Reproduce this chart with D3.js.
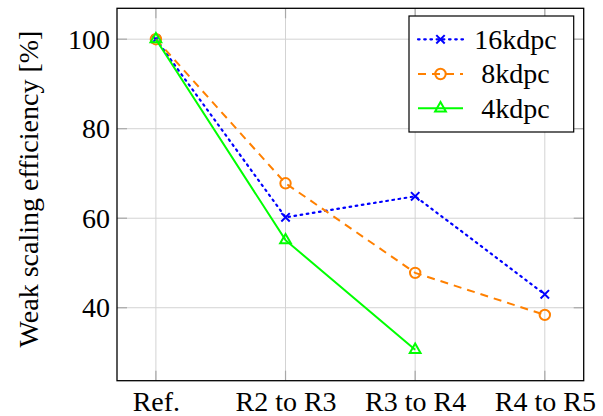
<!DOCTYPE html>
<html>
<head>
<meta charset="utf-8">
<script src="https://cdn.jsdelivr.net/npm/d3@7"></script>
<style>
  html, body { margin: 0; padding: 0; background: #fff; }
  svg { display: block; }
  svg text { font-family: "Liberation Serif", "Times New Roman", "DejaVu Serif", "Noto Serif", serif !important; }
</style>
</head>
<body>
<svg id="chart" width="603" height="416"></svg>
<script>
// Transitions between runs
const categories = ["Ref.", "R2 to R3", "R3 to R4", "R4 to R5"];
const yTicks = [40, 60, 80, 100];

// Weak scaling efficiency in percent, per problem size
const eff16k = [100, 60.2, 64.9, 43.0];
const eff8k  = [100, 67.8, 47.8, 38.4];
const eff4k  = [100, 55.1, 30.6];

const seriesNames = ["16kdpc", "8kdpc", "4kdpc"];

const series = [
  { name: seriesNames[0], values: eff16k, color: "#0000ff", dash: "1.6 4.6", cap: "round", marker: "cross" },
  { name: seriesNames[1], values: eff8k,  color: "#ff8000", dash: "8 6",     cap: "butt",  marker: "circle" },
  { name: seriesNames[2], values: eff4k,  color: "#00ff00", dash: null,      cap: "butt",  marker: "triangle" }
];

const FONT = '"Liberation Serif", "Times New Roman", "DejaVu Serif", "Noto Serif", serif';
const fontSize = 28;
const plot = { left: 117, top: 8.3, right: 583.7, bottom: 380.7 };

const svg = d3.select("#chart");

const x = d3.scalePoint()
  .domain(categories)
  .range([plot.left, plot.right])
  .padding(0.3);

const y = d3.scaleLinear()
  .domain([23.7, 106.9])
  .range([plot.bottom, plot.top]);

// grid
const grid = svg.append("g").attr("stroke", "#d3d3d3").attr("stroke-width", 1);
categories.forEach(c => {
  grid.append("line")
    .attr("x1", x(c)).attr("x2", x(c))
    .attr("y1", plot.top).attr("y2", plot.bottom);
});
yTicks.forEach(t => {
  grid.append("line")
    .attr("x1", plot.left).attr("x2", plot.right)
    .attr("y1", y(t)).attr("y2", y(t));
});

// inward ticks on all four sides
const tickLen = 10;
const ticks = svg.append("g").attr("stroke", "#a8a8a8").attr("stroke-width", 1.2);
categories.forEach(c => {
  ticks.append("line").attr("x1", x(c)).attr("x2", x(c)).attr("y1", plot.bottom).attr("y2", plot.bottom - tickLen);
  ticks.append("line").attr("x1", x(c)).attr("x2", x(c)).attr("y1", plot.top).attr("y2", plot.top + tickLen);
});
yTicks.forEach(t => {
  ticks.append("line").attr("x1", plot.left).attr("x2", plot.left + tickLen).attr("y1", y(t)).attr("y2", y(t));
  ticks.append("line").attr("x1", plot.right).attr("x2", plot.right - tickLen).attr("y1", y(t)).attr("y2", y(t));
});

// axis labels via d3 axes (no domain path, no tick lines)
const xAxis = svg.append("g")
  .attr("transform", `translate(0,${plot.bottom})`)
  .call(d3.axisBottom(x).tickSize(0).tickPadding(0))
  .attr("font-family", FONT)
  .attr("font-size", fontSize);
xAxis.select(".domain").remove();
xAxis.selectAll("text")
  .attr("y", 30.5)
  .attr("dy", 0)
  .attr("font-family", FONT)
  .attr("fill", "#000");

const yAxis = svg.append("g")
  .attr("transform", `translate(${plot.left},0)`)
  .call(d3.axisLeft(y).tickValues(yTicks).tickSize(0).tickPadding(7))
  .attr("font-family", FONT)
  .attr("font-size", fontSize);
yAxis.select(".domain").remove();
yAxis.selectAll("text")
  .attr("dy", "0.33em")
  .attr("font-family", FONT)
  .attr("fill", "#000");

// y title
svg.append("text")
  .attr("transform", `translate(38,189) rotate(-90)`)
  .attr("text-anchor", "middle")
  .attr("font-family", FONT)
  .attr("font-size", fontSize)
  .attr("fill", "#000")
  .text("Weak scaling efficiency [%]");

// markers
function drawMarker(g, type, cx, cy, color) {
  if (type === "cross") {
    const s = 4.2;
    g.append("path")
      .attr("d", `M${cx - s},${cy - s}L${cx + s},${cy + s}M${cx - s},${cy + s}L${cx + s},${cy - s}`)
      .attr("stroke", color).attr("stroke-width", 2).attr("fill", "none");
  } else if (type === "circle") {
    g.append("circle").attr("cx", cx).attr("cy", cy).attr("r", 5.2)
      .attr("stroke", color).attr("stroke-width", 2).attr("fill", "none");
  } else {
    const r = 6.2;
    const pts = [[cx, cy - r], [cx - r * 0.866, cy + r * 0.5], [cx + r * 0.866, cy + r * 0.5]];
    g.append("path").attr("d", "M" + pts.join("L") + "Z")
      .attr("stroke", color).attr("stroke-width", 2).attr("fill", "none")
      .attr("stroke-linejoin", "miter");
  }
}

const line = d3.line()
  .x((d, i) => x(categories[i]))
  .y(d => y(d));

const plotG = svg.append("g");
series.forEach(s => {
  const p = plotG.append("path")
    .datum(s.values)
    .attr("d", line)
    .attr("fill", "none")
    .attr("stroke", s.color)
    .attr("stroke-width", s.cap === "round" ? 2.2 : 2)
    .attr("stroke-linecap", s.cap);
  if (s.dash) p.attr("stroke-dasharray", s.dash);
  s.values.forEach((v, i) => drawMarker(plotG, s.marker, x(categories[i]), y(v), s.color));
});

// frame
svg.append("rect")
  .attr("x", plot.left).attr("y", plot.top)
  .attr("width", plot.right - plot.left).attr("height", plot.bottom - plot.top)
  .attr("fill", "none").attr("stroke", "#000").attr("stroke-width", 1.3);

// legend
const leg = { x: 409, y: 16, w: 164.7, h: 116 };
const lg = svg.append("g");
lg.append("rect")
  .attr("x", leg.x).attr("y", leg.y).attr("width", leg.w).attr("height", leg.h)
  .attr("fill", "#fff").attr("stroke", "#000").attr("stroke-width", 1.2);
const rowY = [39.3, 74, 108.3];
series.forEach((s, i) => {
  const cy = rowY[i];
  const l = lg.append("line")
    .attr("x1", 418).attr("x2", 463).attr("y1", cy).attr("y2", cy)
    .attr("stroke", s.color).attr("stroke-width", s.cap === "round" ? 2.2 : 2)
    .attr("stroke-linecap", s.cap);
  if (s.dash) l.attr("stroke-dasharray", s.dash);
  drawMarker(lg, s.marker, 440.5, cy, s.color);
  lg.append("text")
    .attr("x", 515.5).attr("y", cy)
    .attr("dy", "0.33em")
    .attr("text-anchor", "middle")
    .attr("font-family", FONT)
    .attr("font-size", fontSize)
    .attr("fill", "#000")
    .text(s.name);
});
</script>
</body>
</html>
